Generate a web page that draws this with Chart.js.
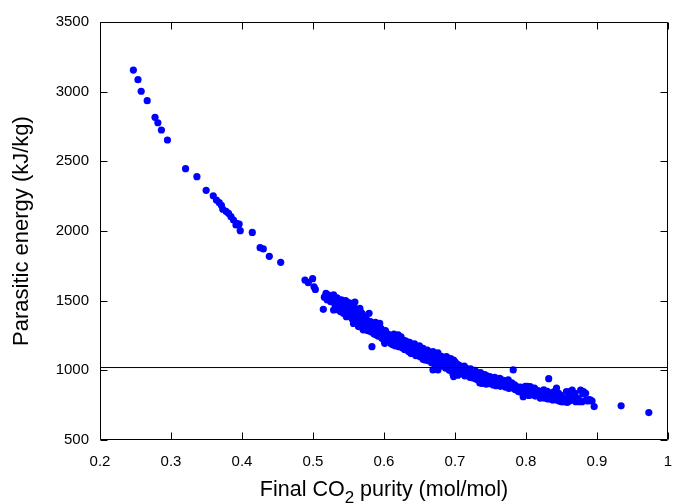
<!DOCTYPE html>
<html>
<head>
<meta charset="utf-8">
<script src="https://cdn.jsdelivr.net/npm/chart.js@4"></script>
<style>
  body { margin: 0; background: #fff; }
</style>
</head>
<body>
<canvas id="grafico" width="673" height="504"></canvas>
<script>
// sparse upper branch
const tailPurity = [0.247, 0.2535, 0.258, 0.2665, 0.2775, 0.2815, 0.2865, 0.295, 0.3205, 0.3365,
  0.3495, 0.3595, 0.364, 0.368, 0.371, 0.373, 0.3775, 0.381, 0.3845, 0.388,
  0.3915, 0.3925, 0.396, 0.3975, 0.4145, 0.4255, 0.43, 0.4385, 0.4545];
const tailEnergy = [3155, 3086, 3003, 2935, 2816, 2777, 2725, 2653, 2447, 2390,
  2292, 2253, 2222, 2203, 2184, 2156, 2141, 2127, 2103, 2079,
  2043, 2055, 2050, 2002, 1990, 1880, 1871, 1818, 1775];

// start of the dense cloud
const headPurity = [0.4887, 0.4934, 0.4995, 0.5014, 0.5033, 0.5145, 0.5183, 0.516];
const headEnergy = [1648, 1629, 1658, 1600, 1581, 1438, 1553, 1525];

// dense cloud, one row per 0.01 of purity
const bandPurity = [
  0.520, 0.522, 0.523, 0.525, 0.527, 0.529, 0.529, 0.531, 0.533,
  0.532, 0.534, 0.536, 0.536, 0.538, 0.539, 0.540, 0.540,
  0.541, 0.543, 0.543, 0.545, 0.546, 0.547, 0.548, 0.550, 0.550,
  0.551, 0.552, 0.554, 0.554, 0.555, 0.557, 0.557, 0.558, 0.559, 0.560,
  0.561, 0.562, 0.563, 0.564, 0.564, 0.566, 0.566, 0.567, 0.569, 0.569, 0.570,
  0.571, 0.572, 0.573, 0.574, 0.575, 0.576, 0.577, 0.578, 0.579, 0.580,
  0.581, 0.582, 0.583, 0.583, 0.585, 0.586, 0.587, 0.588, 0.589, 0.590,
  0.591, 0.592, 0.594, 0.594, 0.596, 0.597, 0.598, 0.599, 0.600,
  0.601, 0.602, 0.604, 0.605, 0.606, 0.607, 0.608, 0.609, 0.610,
  0.611, 0.612, 0.613, 0.614, 0.615, 0.616, 0.617, 0.618, 0.619, 0.620,
  0.621, 0.622, 0.623, 0.624, 0.625, 0.626, 0.627, 0.628, 0.629, 0.630,
  0.631, 0.632, 0.633, 0.634, 0.635, 0.636, 0.637, 0.638, 0.639, 0.640,
  0.641, 0.642, 0.643, 0.644, 0.645, 0.646, 0.647, 0.648, 0.649, 0.650,
  0.651, 0.652, 0.653, 0.655, 0.655, 0.656, 0.657, 0.658, 0.659, 0.660,
  0.661, 0.662, 0.663, 0.664, 0.665, 0.666, 0.667, 0.668, 0.669, 0.669, 0.670,
  0.671, 0.672, 0.673, 0.674, 0.675, 0.676, 0.676, 0.677, 0.678, 0.679, 0.680,
  0.681, 0.682, 0.683, 0.684, 0.685, 0.686, 0.687, 0.688, 0.689, 0.690,
  0.691, 0.692, 0.693, 0.694, 0.695, 0.696, 0.697, 0.698, 0.698, 0.699, 0.700,
  0.701, 0.702, 0.702, 0.703, 0.704, 0.705, 0.706, 0.707, 0.708, 0.709, 0.710,
  0.711, 0.712, 0.713, 0.714, 0.715, 0.716, 0.717, 0.718, 0.719, 0.720,
  0.721, 0.722, 0.723, 0.724, 0.725, 0.726, 0.727, 0.728, 0.729, 0.730,
  0.731, 0.732, 0.733, 0.734, 0.735, 0.735, 0.736, 0.737, 0.738, 0.739, 0.740,
  0.741, 0.742, 0.743, 0.744, 0.745, 0.745, 0.746, 0.747, 0.748, 0.749, 0.750,
  0.751, 0.752, 0.753, 0.754, 0.756, 0.756, 0.757, 0.758, 0.759, 0.760,
  0.761, 0.762, 0.763, 0.764, 0.765, 0.766, 0.767, 0.768, 0.769, 0.770,
  0.771, 0.772, 0.773, 0.774, 0.775, 0.776, 0.777, 0.778, 0.779, 0.780,
  0.781, 0.782, 0.783, 0.784, 0.785, 0.786, 0.787, 0.788, 0.789, 0.790,
  0.791, 0.792, 0.793, 0.794, 0.795, 0.796, 0.797, 0.798, 0.799, 0.800,
  0.801, 0.802, 0.803, 0.804, 0.805, 0.806, 0.807, 0.808, 0.809, 0.810,
  0.811, 0.812, 0.813, 0.814, 0.815, 0.816, 0.817, 0.818, 0.819, 0.820,
  0.821, 0.822, 0.823, 0.824, 0.825, 0.826, 0.827, 0.828, 0.829, 0.830,
  0.831, 0.832, 0.833, 0.834, 0.835, 0.836, 0.837, 0.838, 0.839, 0.840,
  0.841, 0.842, 0.843, 0.844, 0.845, 0.846, 0.847, 0.848, 0.849, 0.850,
  0.852, 0.853, 0.855, 0.857, 0.858, 0.860,
  0.861, 0.862, 0.863, 0.865, 0.866, 0.868, 0.869, 0.870,
  0.872, 0.874, 0.875, 0.877, 0.879, 0.880, 0.881, 0.884, 0.885, 0.887, 0.889, 0.891, 0.893
];
const bandEnergy = [
  1505, 1540, 1529, 1493, 1520, 1541, 1433, 1470, 1505,
  1450, 1520, 1433, 1490, 1481, 1420, 1505, 1455,
  1470, 1493, 1409, 1440, 1500, 1385, 1460, 1486, 1420,
  1395, 1460, 1481, 1433, 1370, 1337, 1410, 1450, 1490, 1360,
  1430, 1409, 1340, 1314, 1380, 1445, 1355, 1420, 1409, 1330, 1300,
  1290, 1390, 1373, 1340, 1300, 1360, 1285, 1326, 1409, 1310,
  1350, 1275, 1278, 1170, 1330, 1260, 1300, 1345, 1255, 1290,
  1320, 1245, 1337, 1270, 1300, 1230, 1265, 1278, 1215,
  1194, 1285, 1242, 1205, 1260, 1225, 1206, 1250, 1190,
  1240, 1185, 1218, 1260, 1200, 1175, 1230, 1194, 1215, 1254,
  1170, 1225, 1182, 1240, 1200, 1160, 1170, 1215, 1150, 1190,
  1210, 1146, 1175, 1194, 1135, 1200, 1160, 1120, 1158, 1185,
  1122, 1150, 1190, 1170, 1105, 1140, 1165, 1134, 1110, 1175,
  1098, 1150, 1125, 1158, 1080, 1105, 1140, 1074, 1120, 1110,
  1145, 1070, 1095, 1130, 1074, 1115, 1055, 1090, 1134, 1003, 1060,
  1120, 1040, 1080, 1098, 1060, 1003, 1125, 1045, 1075, 1086, 1050,
  1100, 1030, 1070, 1062, 1040, 1090, 1015, 1098, 1050, 1025,
  1075, 1000, 1050, 1085, 1010, 1040, 975, 1074, 955, 1020, 1060,
  990, 1027, 991, 1045, 965, 1010, 1035, 1027, 975, 1000, 1020,
  985, 1003, 1030, 960, 995, 1015, 970, 1005, 967, 990,
  950, 1010, 975, 995, 945, 979, 960, 1000, 940, 955,
  985, 930, 965, 950, 967, 909, 983, 925, 907, 960, 943,
  915, 970, 935, 900, 931, 960, 915, 950, 905, 955, 940,
  905, 945, 925, 895, 907, 950, 930, 890, 915, 935,
  900, 934, 943, 885, 920, 905, 930, 895, 909, 925,
  880, 915, 900, 922, 931, 870, 905, 890, 880, 910,
  885, 1003, 870, 895, 860, 880, 883, 873, 850, 865,
  845, 880, 860, 859, 848, 811, 870, 835, 885, 850,
  830, 885, 850, 820, 865, 883, 848, 825, 860, 871,
  840, 873, 815, 836, 847, 820, 855, 830, 824, 801,
  845, 835, 810, 836, 860, 800, 830, 815, 812, 850,
  795, 940, 836, 805, 820, 800, 790, 787, 845, 830,
  848, 810, 873, 785, 800, 835, 780, 787, 820, 775,
  790, 775, 800, 848, 770, 810,
  780, 847, 790, 859, 800, 785, 835, 775,
  800, 790, 775, 859, 775, 830, 847, 835, 787, 780, 790, 787, 780
];

// isolated high-purity points
const endPurity = [0.896, 0.934, 0.973];
const endEnergy = [740, 745, 697];

// horizontal reference line
const limitEnergy = 1020;

const xMin = 0.2, xMax = 1, xStep = 0.1;
const yMin = 500, yMax = 3500, yStep = 500;

const pontos = [];
[[tailPurity, tailEnergy], [headPurity, headEnergy], [bandPurity, bandEnergy], [endPurity, endEnergy]]
  .forEach(([xs, ys]) => xs.forEach((v, i) => pontos.push({ x: v, y: ys[i] })));

const FONT = '"Liberation Sans", Arial, sans-serif';

// gnuplot-like box with inward ticks on all four sides
const moldura = {
  id: 'moldura',
  afterDatasetsDraw(chart) {
    const { ctx, chartArea: a, scales: { x, y } } = chart;
    const L = Math.round(a.left) + 0.5, R = Math.round(a.right) - 0.5;
    const T = Math.round(a.top) + 0.5, B = Math.round(a.bottom) - 0.5;
    ctx.save();
    ctx.strokeStyle = '#000';
    ctx.lineWidth = 1;
    ctx.beginPath();
    x.ticks.forEach(t => {
      const px = Math.round(x.getPixelForValue(t.value)) + 0.5;
      ctx.moveTo(px, B); ctx.lineTo(px, B - 7);
      ctx.moveTo(px, T); ctx.lineTo(px, T + 7);
    });
    y.ticks.forEach(t => {
      const py = Math.round(y.getPixelForValue(t.value)) + 0.5;
      ctx.moveTo(L, py); ctx.lineTo(L + 7, py);
      ctx.moveTo(R, py); ctx.lineTo(R - 7, py);
    });
    ctx.moveTo(L, T); ctx.lineTo(R, T); ctx.lineTo(R, B); ctx.lineTo(L, B); ctx.closePath();
    ctx.stroke();
    ctx.restore();
  }
};

// axis titles, the x one with a real subscript
const titulos = {
  id: 'titulos',
  afterDraw(chart) {
    const { ctx, chartArea: a } = chart;
    ctx.save();
    ctx.fillStyle = '#000';
    ctx.textBaseline = 'alphabetic';
    const big = '21.5px ' + FONT, small = '17px ' + FONT;
    const p1 = 'Final CO', p2 = '2', p3 = ' purity (mol/mol)';
    ctx.font = big;
    const w1 = ctx.measureText(p1).width, w3 = ctx.measureText(p3).width;
    ctx.font = small;
    const w2 = ctx.measureText(p2).width;
    let x0 = (a.left + a.right) / 2 - (w1 + w2 + w3) / 2;
    const base = 496;
    ctx.font = big;
    ctx.fillText(p1, x0, base);
    ctx.font = small;
    ctx.fillText(p2, x0 + w1, base + 7);
    ctx.font = big;
    ctx.fillText(p3, x0 + w1 + w2, base);

    ctx.font = '22px ' + FONT;
    ctx.translate(28, (a.top + a.bottom) / 2);
    ctx.rotate(-Math.PI / 2);
    ctx.textAlign = 'center';
    ctx.fillText('Parasitic energy (kJ/kg)', 0, 0);
    ctx.restore();
  }
};

// drop the extra padding Chart.js reserves for edge labels
const semPadding = s => { s.paddingLeft = 0; s.paddingRight = 0; s.paddingTop = 0; s.paddingBottom = 0; };

new Chart(document.getElementById('grafico'), {
  type: 'scatter',
  data: {
    datasets: [
      {
        type: 'line',
        data: [{ x: xMin, y: limitEnergy }, { x: xMax, y: limitEnergy }],
        borderColor: '#000',
        borderWidth: 1,
        pointRadius: 0,
        fill: false
      },
      {
        data: pontos,
        backgroundColor: '#0000ff',
        borderColor: '#0000ff',
        borderWidth: 0,
        pointRadius: 3.6
      }
    ]
  },
  options: {
    responsive: false,
    animation: false,
    layout: { padding: { top: 22, right: 5, left: 0, bottom: 0 } },
    plugins: { legend: { display: false }, tooltip: { enabled: false } },
    scales: {
      x: {
        type: 'linear',
        min: xMin, max: xMax,
        grid: { display: false },
        border: { display: false },
        ticks: {
          stepSize: xStep,
          padding: 5,
          color: '#000',
          font: { family: FONT, size: 15 },
          callback: v => String(+v.toFixed(1))
        },
        afterFit: s => { s.height = 64; semPadding(s); }
      },
      y: {
        min: yMin, max: yMax,
        grid: { display: false },
        border: { display: false },
        ticks: {
          stepSize: yStep,
          padding: 3,
          color: '#000',
          font: { family: FONT, size: 15 },
          callback: v => String(v)
        },
        afterFit: s => { s.width = 100; semPadding(s); }
      }
    }
  },
  plugins: [moldura, titulos]
});
</script>
</body>
</html>
